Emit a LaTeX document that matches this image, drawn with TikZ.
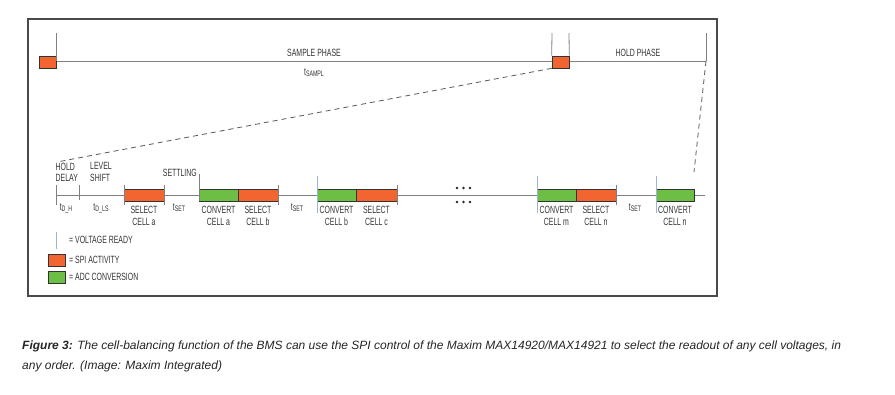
\documentclass[tikz,border=0pt]{standalone}
\usepackage{fontspec}
\setmainfont{Liberation Sans}[FakeStretch=0.66]
\newfontfamily\capfont{Liberation Sans}
\definecolor{spired}{HTML}{F26531}
\definecolor{adcgreen}{HTML}{6DBE45}
\definecolor{tline}{HTML}{808080}
\definecolor{vready}{HTML}{9DB3D8}
\definecolor{framec}{HTML}{4A4A4A}
\definecolor{txt}{HTML}{333333}
\newcommand{\tsb}[1]{t\raisebox{-1.2pt}{\fontsize{8}{8}\selectfont #1}}
\tikzset{
  spi/.style={draw=black!80, fill=spired, line width=0.6pt, minimum height=12pt, inner sep=0pt},
  adc/.style={draw=black!80, fill=adcgreen, line width=0.6pt, minimum height=12pt, inner sep=0pt},
  tl/.style={draw=tline, line width=0.9pt},
  tick/.style={draw=tline, line width=0.8pt},
  vtick/.style={draw=vready, line width=0.9pt},
  lab/.style={font=\fontsize{10.5}{11.5}\selectfont, text=txt, align=center, inner sep=0pt},
  labl/.style={font=\fontsize{10.5}{11.5}\selectfont, text=txt, align=left, inner sep=0pt},
  zoomline/.style={draw=black!65, line width=0.8pt, dash pattern=on 5pt off 4pt},
  dotc/.style={fill=black!85},
  captxt/.style={font=\capfont\itshape\fontsize{12}{14}\selectfont, text=black!85, inner sep=0pt, anchor=base west}
}
\begin{document}
\begin{tikzpicture}[x=1pt,y=-1pt]
\useasboundingbox (0,0) rectangle (895,394);
\fill[white] (0,0) rectangle (895,394);
% frame
\draw[framec, line width=1.1pt] (28,19) rectangle (717,296);

% ---------- top timeline ----------
\coordinate (t0) at (56,61);
\coordinate (t1) at (706,61);
\draw[tl] (t0) -- (t1);
\node[spi, minimum width=17pt] (r0) at (47.5,62) {};
\node[spi, minimum width=17pt] (r1) at (560.5,62) {};
\coordinate (k0) at (56,33);
\coordinate (k1) at (552,33);
\coordinate (k2) at (569,33);
\coordinate (k3) at (706,33);
\draw[tick] (k0) -- (t0);
\draw[tick] (k1) -- (r1.north west);
\draw[tick] (k2) -- (r1.north east);
\draw[tick] (k3) -- (t1);
\node[lab] (sp) at (314,53) {SAMPLE PHASE};
\node[lab] (ts) at (314,73) {\tsb{SAMPL}};
\node[lab] (hp) at (638,53) {HOLD PHASE};

% ---------- zoom lines ----------
\coordinate (z0) at (57,162);
\coordinate (z1) at (694,172);
\draw[zoomline] (r1.south west) -- (z0);
\draw[zoomline] (t1) -- (z1);

% ---------- bottom timeline ----------
\coordinate (b0) at (56,195);
\coordinate (b1) at (705,195);
\draw[tl] (b0) -- (b1);

% boxes
\node[spi, minimum width=40pt] (sa) at (144,195) {};
\node[adc, minimum width=39pt] (ca) at (218.5,195) {};
\node[spi, minimum width=40pt] (sb) at (258,195) {};
\node[adc, minimum width=39pt] (cb) at (336.5,195) {};
\node[spi, minimum width=41pt] (sc) at (376.5,195) {};
\node[adc, minimum width=39pt] (cm) at (556.5,195) {};
\node[spi, minimum width=40pt] (sn) at (596,195) {};
\node[adc, minimum width=38pt] (cn) at (675,195) {};

% ticks
\draw[tick] (56,185) -- (56,205);
\draw[tick] (79,185) -- (79,200);
\draw[tick] (124,185) -- (124,205);
\draw[tick] (164,185) -- (164,205);
\draw[tick] (199,174) -- (199,201);
\draw[tick] (278,185) -- (278,205);
\draw[tick] (397,185) -- (397,205);
\draw[tick] (616,185) -- (616,205);
\draw[vtick] (317,176) -- (317,213);
\draw[vtick] (537,176) -- (537,213);
\draw[vtick] (656,176) -- (656,213);

% dots
\foreach \dx in {457,463.5,470}{
  \fill[dotc] (\dx,188) circle (1.4pt);
  \fill[dotc] (\dx,202) circle (1.4pt);
}

% upper labels
\node[labl, anchor=north west] (hd) at (55.5,162.5) {HOLD\\DELAY};
\node[labl, anchor=north west] (ls) at (90,162.5) {LEVEL\\SHIFT};
\node[lab, anchor=north east] (st) at (197,168.5) {SETTLING};

% lower labels
\node[lab] (l1) at (66,208) {\tsb{D\_H}};
\node[lab] (l2) at (101,208) {\tsb{D\_LS}};
\node[lab] (l3) at (179,208) {\tsb{SET}};
\node[lab] (l4) at (297,208) {\tsb{SET}};
\node[lab] (l5) at (635,208) {\tsb{SET}};
\node[lab, anchor=north] (la) at (sa.south |- 0,206) {SELECT\\CELL a};
\node[lab, anchor=north] (lb) at (ca.south |- 0,206) {CONVERT\\CELL a};
\node[lab, anchor=north] (lc) at (sb.south |- 0,206) {SELECT\\CELL b};
\node[lab, anchor=north] (ld) at (cb.south |- 0,206) {CONVERT\\CELL b};
\node[lab, anchor=north] (le) at (sc.south |- 0,206) {SELECT\\CELL c};
\node[lab, anchor=north] (lf) at (cm.south |- 0,206) {CONVERT\\CELL m};
\node[lab, anchor=north] (lg) at (sn.south |- 0,206) {SELECT\\CELL n};
\node[lab, anchor=north] (lh) at (cn.south |- 0,206) {CONVERT\\CELL n};

% legend
\draw[vtick] (56,232) -- (56,249);
\node[labl, anchor=west] (g1) at (69,240) {= VOLTAGE READY};
\node[spi, minimum width=17pt] (gr) at (56.5,260) {};
\node[labl, anchor=west] (g2) at (69,260) {= SPI ACTIVITY};
\node[adc, minimum width=17pt] (gg) at (56.5,277) {};
\node[labl, anchor=west] (g3) at (69,277) {= ADC CONVERSION};

% caption
\node[captxt] (c1) at (22,349) {\textbf{Figure 3:} The cell-balancing function of the BMS can use the SPI control of the Maxim MAX14920/MAX14921 to select the readout of any cell voltages, in};
\node[captxt] (c2) at (22,369) {any order. (Image: Maxim Integrated)};
\end{tikzpicture}
\end{document}
